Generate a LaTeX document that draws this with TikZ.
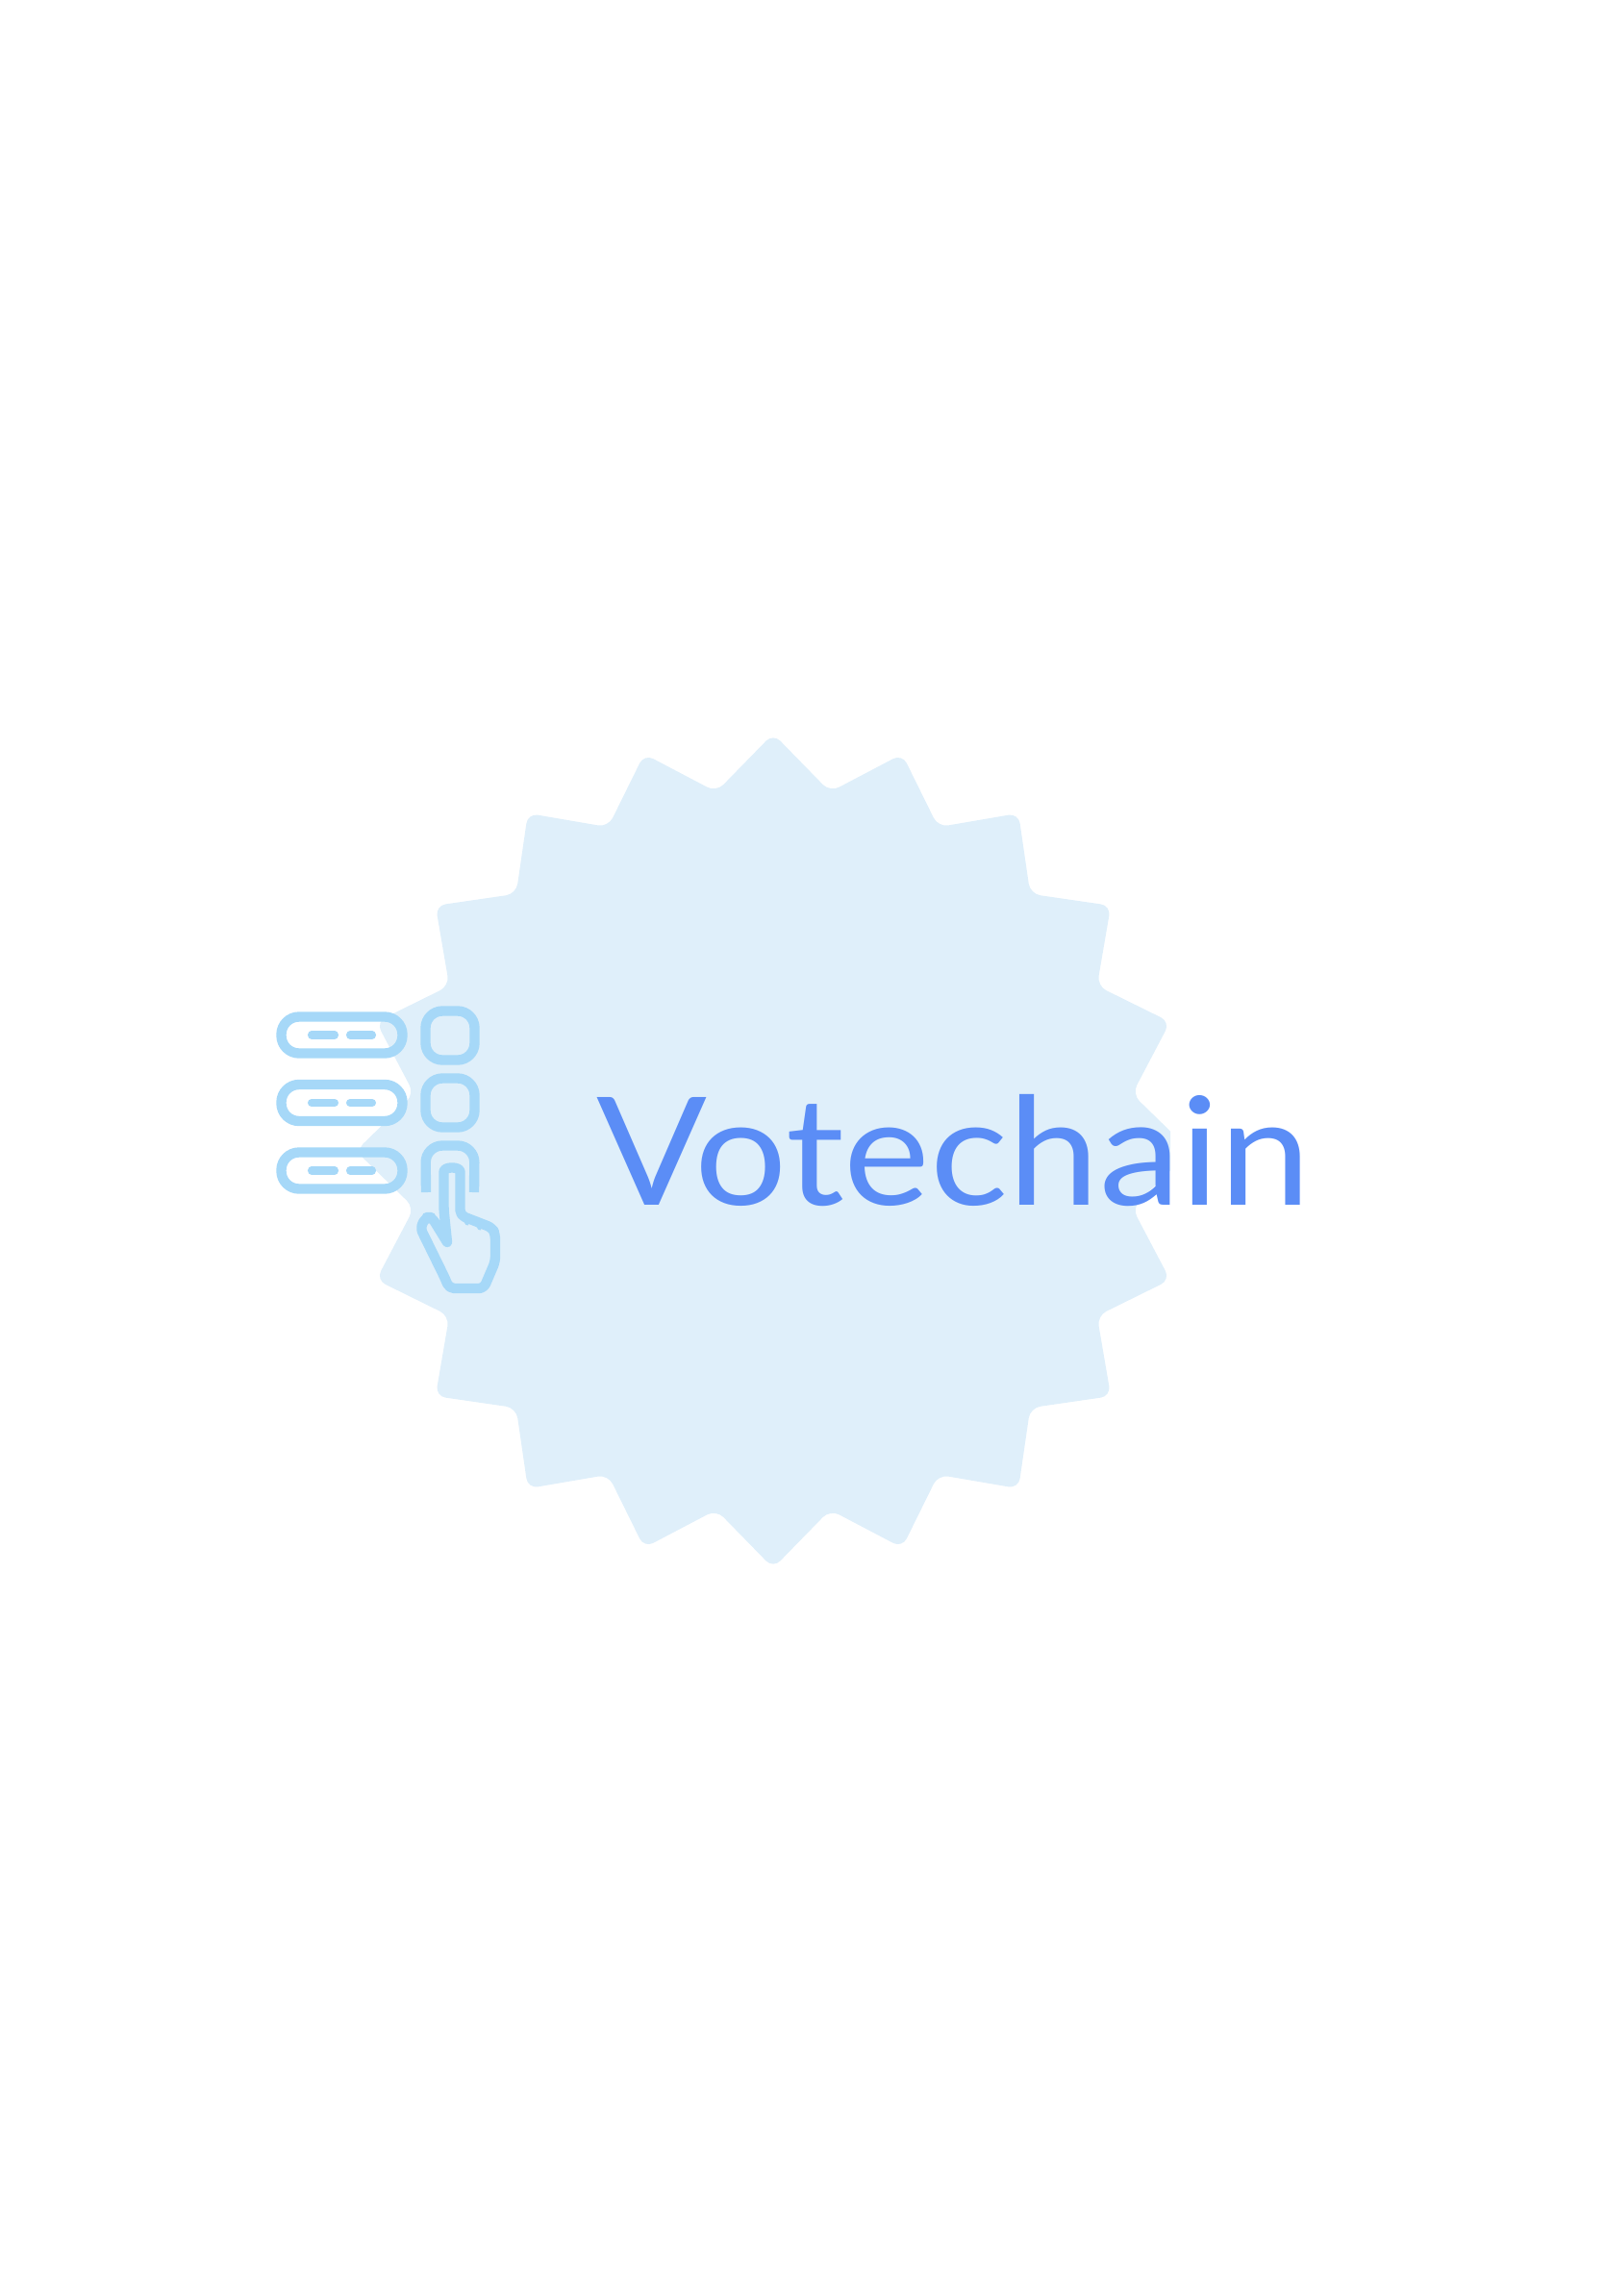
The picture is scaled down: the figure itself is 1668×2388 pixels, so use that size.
\documentclass[tikz,border=0pt]{standalone}
\usepackage{fontspec}
\usepackage{tikz}
\newfontfamily\titlefont[FakeStretch=1.086]{Lato}
\definecolor{badgeblue}{HTML}{DFEFFA}
\definecolor{iconblue}{HTML}{A6D8F8}
\definecolor{titleblue}{HTML}{5B8DF6}
\tikzset{
	iconline/.style={draw=iconblue, line width=5.9pt, line cap=round, line join=round},
	dashline/.style={draw=iconblue, line width=4.6pt, line cap=round},
}

\begin{document}
\begin{tikzpicture}[x=0.02cm, y=-0.02cm]
		\useasboundingbox (0,0) rectangle (1668,2388);
		
		% Badge
		\begin{scope}
			\clip (0,0) rectangle (1217,2388);
			\fill[badgeblue, rounded corners=6pt, shift={(804,1197)}] (0:434)
				\foreach \a in {0,18,...,342} { -- (\a+9:378) -- (\a+18:434) } -- cycle;
		\end{scope}
		
		% Rows
		\foreach \y in {1076.5,1147,1217.5} {
			\draw[iconline, rounded corners=10.5pt] (292.5,\y-19) rectangle (418.5,\y+19);
			\draw[dashline] (324,\y) -- (348,\y);
			\draw[dashline] (364,\y) -- (387,\y);
		}
		
		% Squares
		\foreach \y in {1051.5,1121.5} {
			\draw[iconline, rounded corners=10pt] (442.5,\y) rectangle (493.5,\y+51);
		}
		\draw[iconline, line cap=butt, rounded corners=10pt] (443,1240) -- (442.5,1191.5) -- (493.5,1191.5) -- (493,1240);
		
		% Hand
		\draw[iconline, rounded corners=3pt] (465,1292) -- (461.5,1258) -- (461.5,1224)
			.. controls (461.5,1213) and (478.5,1213) .. (478.5,1224)
			-- (478.5,1264) -- (512,1277) -- (515,1284) -- (515,1312) -- (503,1340)
			-- (467,1340) -- (463,1330) -- (437,1277) -- (443,1266) -- (449,1266) -- (465,1292);
		\draw[dashline, line width=2pt] (484,1270) -- (486,1273);
		\draw[dashline, line width=2pt] (497,1275) -- (499,1278);
		
		% Title
		\node[anchor=base west, inner sep=0pt, text=titleblue, font=\titlefont\fontsize{89}{89}\selectfont] (title) at (620,1253) {Votechain};
	\end{tikzpicture}
\end{document}
